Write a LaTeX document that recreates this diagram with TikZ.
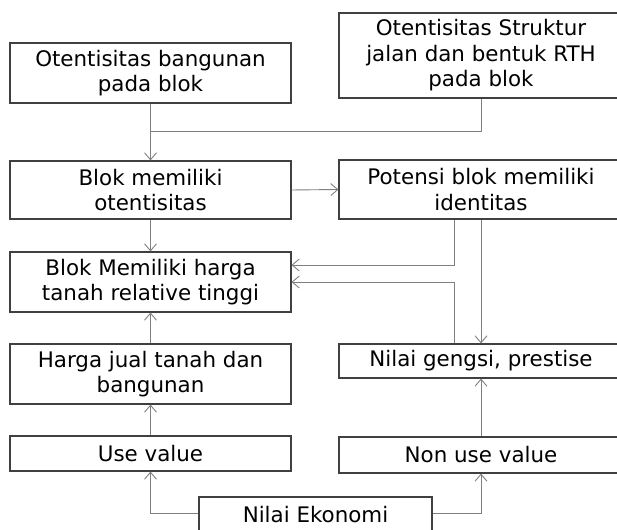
\documentclass[tikz,border=0pt]{standalone}
\usepackage{fontspec}
\setmainfont{DejaVu Sans}
\usepackage{tikz}
\usetikzlibrary{positioning, arrows.meta}

\begin{document}
\begin{tikzpicture}[x=1pt, y=1pt,
        box/.style={draw=black!75, line width=1.1pt, fill=white, align=center,
            inner sep=0pt, minimum width=281pt, font=\fontsize{21.4}{25.5}\selectfont},
        conn/.style={draw=black!50, line width=0.9pt},
        arr/.style={conn, -{Straight Barb[length=7pt, width=12pt]}}]
        \useasboundingbox (0,0) rectangle (617,529);
        % Left column
        \node[box, minimum height=60pt] (bangunan) at (150.5,456) {Otentisitas bangunan\\pada blok};
        \node[box, minimum height=58pt] (otentik) at (150.5,339) {Blok memiliki\\otentisitas};
        \node[box, minimum height=60pt] (harga) at (150.5,247) {Blok Memiliki harga\\tanah relative tinggi};
        \node[box, minimum height=60pt] (jual) at (150.5,155) {Harga jual tanah dan\\bangunan};
        \node[box, minimum height=35pt] (use) at (150.5,75.5) {Use value};
        % Right column
        \node[box, minimum width=284pt, minimum height=85pt] (struktur) at (481,473.5) {Otentisitas Struktur\\jalan dan bentuk RTH\\pada blok};
        \node[box, minimum width=284pt, minimum height=59pt] (potensi) at (481,339.5) {Potensi blok memiliki\\identitas};
        \node[box, minimum width=284pt, minimum height=34pt] (gengsi) at (481,168) {Nilai gengsi, prestise};
        \node[box, minimum width=284pt, minimum height=36pt] (nonuse) at (481,74) {Non use value};
        % Bottom
        \node[box, minimum width=233pt, minimum height=36pt] (ekonomi) at (315.5,14) {Nilai Ekonomi};
        \coordinate (join) at (150.5,398);
        % Connectors
        \draw[arr] (bangunan.south) -- (otentik.north);
        \draw[conn] (struktur.south) |- (join);
        \draw[arr] (otentik.east) -- (potensi.west);
        \draw[arr] (otentik.south) -- (harga.north);
        \draw[arr] ([xshift=-27pt]potensi.south) |- ([yshift=17pt]harga.east);
        \draw[arr] ([xshift=-27pt]gengsi.north) |- (harga.east);
        \draw[arr] (potensi.south) -- (gengsi.north);
        \draw[arr] (jual.north) -- (harga.south);
        \draw[arr] (use.north) -- (jual.south);
        \draw[arr] (nonuse.north) -- (gengsi.south);
        \draw[arr] ([yshift=2pt]ekonomi.west) -| (use.south);
        \draw[arr] ([yshift=2pt]ekonomi.east) -| (nonuse.south);
\end{tikzpicture}
\end{document}
